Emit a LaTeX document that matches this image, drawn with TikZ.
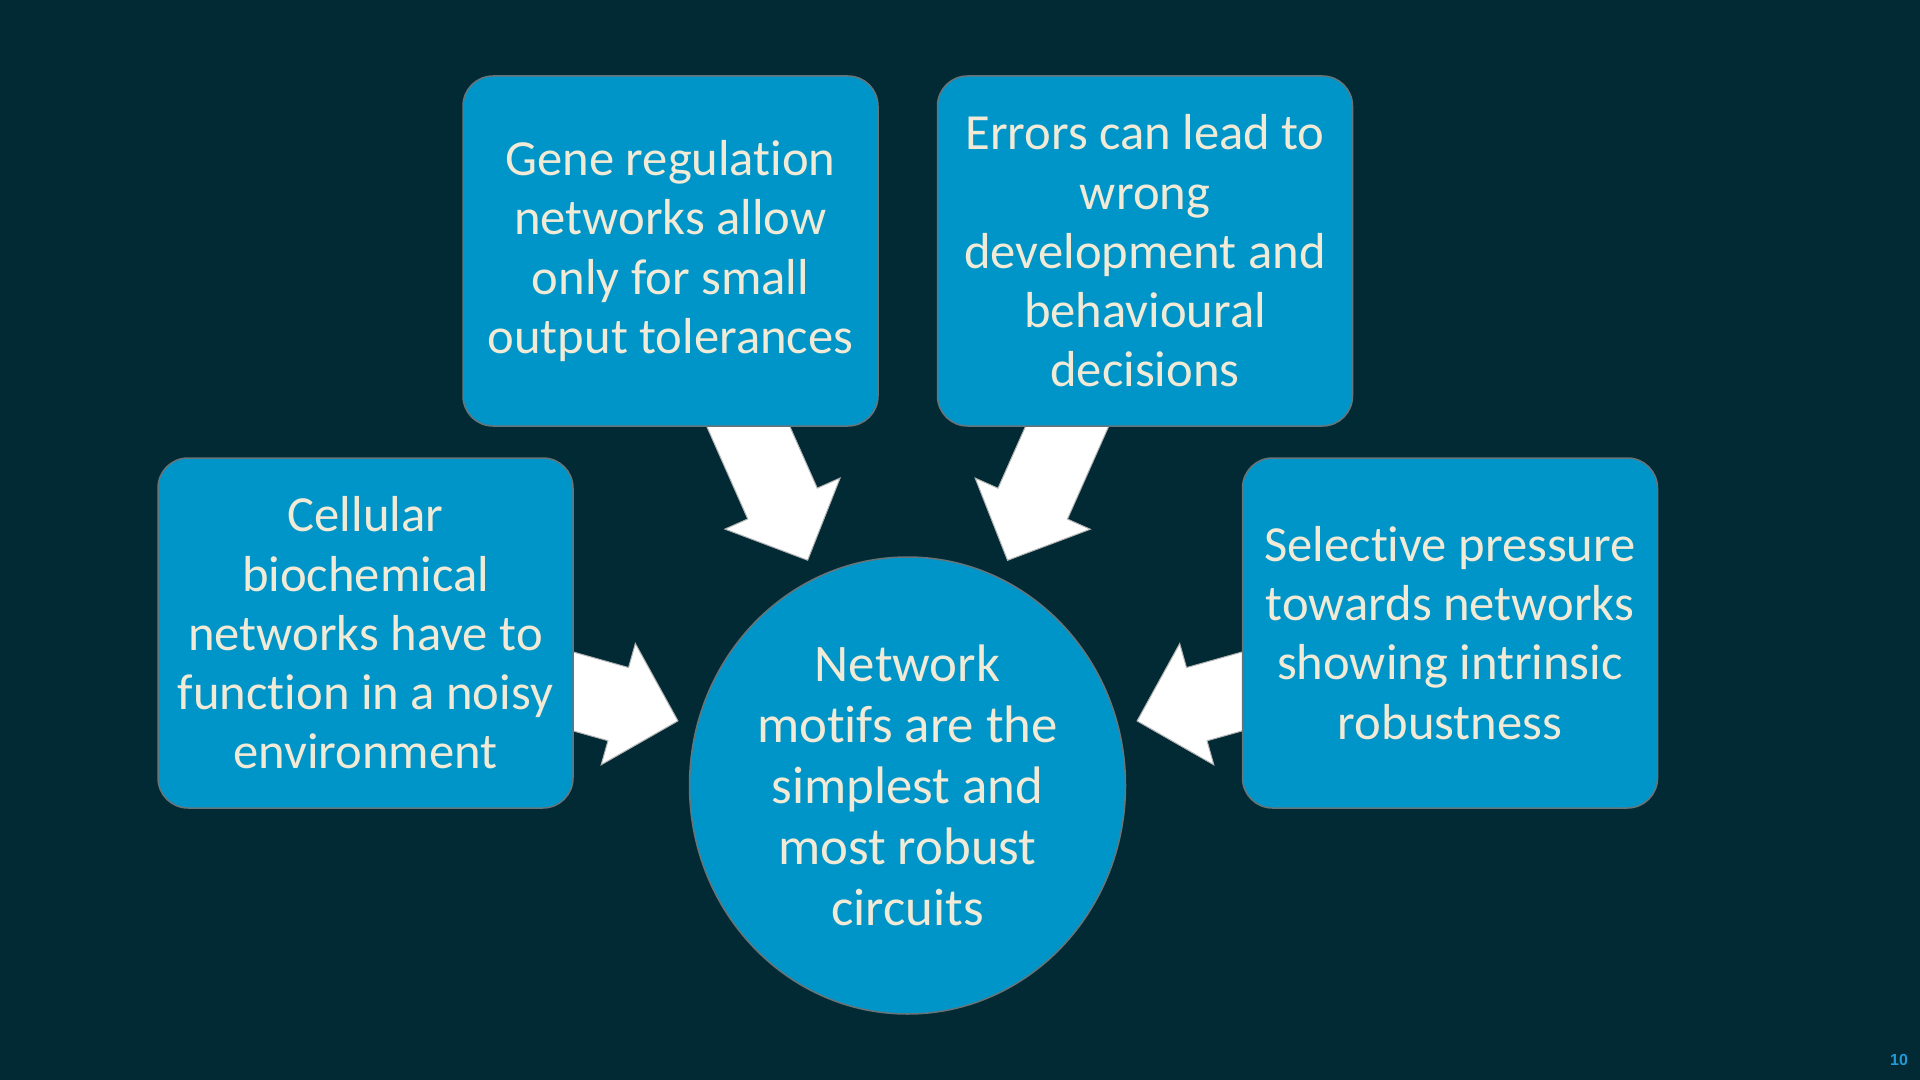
\documentclass[tikz,border=0pt]{standalone}
\usepackage{fontspec}
\setmainfont{Carlito}[Ligatures={NoCommon}]
\newfontfamily\numfont{Liberation Sans}
\usetikzlibrary{shapes.geometric,calc}
\definecolor{bgc}{HTML}{022A35}
\definecolor{boxc}{HTML}{0095C8}
\definecolor{edgec}{HTML}{66757A}
\definecolor{txtc}{HTML}{F0EAD6}
\definecolor{numc}{HTML}{1E9BD7}
\pgfdeclarelayer{back}
\pgfdeclarelayer{arrows}
\pgfsetlayers{back,arrows,main}
\newcommand\blockarr[2]{%
  \path (#1.center) -- (#2) coordinate[pos=1] (#1-x);
  \coordinate (#1-t) at ($(#1-x)!9.5pt!(#1.center)$);
  \coordinate (#1-h) at ($(#1-t)!31pt!(#1.center)$);
  \draw[blockarrow] ($(#1.center)!19pt!90:(#1-t)$) -- ($(#1-h)!19pt!90:(#1-t)$)
    -- ($(#1-h)!31.5pt!90:(#1-t)$) -- (#1-t) -- ($(#1-h)!31.5pt!-90:(#1-t)$)
    -- ($(#1-h)!19pt!-90:(#1-t)$) -- ($(#1.center)!19pt!-90:(#1-t)$) -- cycle;
}
\begin{document}
\begin{tikzpicture}[x=0.5pt,y=-0.5pt,
  box/.style={draw=edgec, line width=0.75pt, fill=boxc, rounded corners=15pt,
    minimum width=207.5pt, minimum height=175pt, inner sep=0pt, align=center,
    text=txtc, font=\fontsize{25.3pt}{29.6pt}\selectfont},
  hub/.style={ellipse, draw=edgec, line width=0.75pt, fill=boxc,
    minimum width=218pt, minimum height=228.5pt, inner sep=0pt, align=center,
    text=txtc, font=\fontsize{26.4pt}{30.5pt}\selectfont},
  blockarrow/.style={fill=white, draw=gray!60, line width=0.5pt, line join=miter}]
\begin{pgfonlayer}{back}
\fill[bgc] (0,0) rectangle (1920,1080);
\end{pgfonlayer}
\useasboundingbox (0,0) rectangle (1920,1080);

\node[hub] (hub) at (907.5,785.5) {Network\\motifs are the\\simplest and\\most robust\\circuits};
\node[box] (gene) at (670.5,251) {Gene regulation\\networks allow\\only for small\\output tolerances};
\node[box] (err) at (1145,251) {Errors can lead to\\wrong\\development and\\behavioural\\decisions};
\node[box] (cell) at (365.5,633) {Cellular\\biochemical\\networks have to\\function in a noisy\\environment};
\node[box] (sel) at (1450,633) {Selective pressure\\towards networks\\showing intrinsic\\robustness};

\begin{pgfonlayer}{arrows}
\blockarr{gene}{hub}
\blockarr{err}{hub}
\blockarr{cell}{hub}
\blockarr{sel}{hub}
\end{pgfonlayer}

\node[font=\numfont\bfseries\fontsize{8pt}{9.6pt}\selectfont, text=numc, inner sep=0pt] (pg) at (1899,1060) {10};
\end{tikzpicture}
\end{document}
